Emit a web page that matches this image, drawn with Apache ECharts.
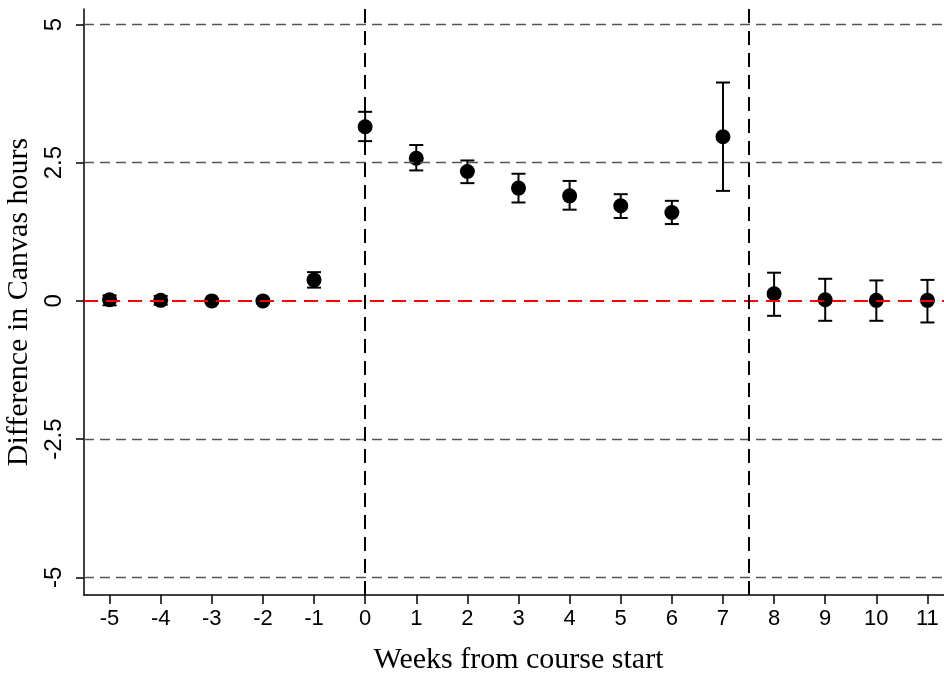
<!DOCTYPE html>
<html>
<head>
<meta charset="utf-8">
<script src="https://cdn.jsdelivr.net/npm/echarts@6/dist/echarts.min.js"></script>
<style>
html,body{margin:0;padding:0;background:#fff;}
#chart{width:944px;height:677px;}
</style>
</head>
<body>
<div id="chart"></div>
<script>
// Data
const weeks = [-5,-4,-3,-2,-1,0,1,2,3,4,5,6,7,8,9,10,11];
const estimates = [0.02,0.01,0.0,0.0,0.38,3.15,2.58,2.34,2.04,1.90,1.72,1.60,2.97,0.13,0.02,0.01,0.01];
const ciLow  = [-0.08,-0.07,-0.03,-0.03,0.24,2.89,2.36,2.13,1.78,1.65,1.50,1.39,1.99,-0.27,-0.36,-0.36,-0.39];
const ciHigh = [0.10,0.09,0.03,0.03,0.52,3.42,2.82,2.54,2.30,2.17,1.93,1.81,3.95,0.51,0.40,0.37,0.38];
const yTicks = [-5,-2.5,0,2.5,5];
const gridY = [-5,-2.5,2.5,5];
const zeroLine = 0;
const verticalLines = [0, 7.5];

const chart = echarts.init(document.getElementById('chart'), null, {renderer:'canvas'});

const pointData = weeks.map((w,i)=>[w, estimates[i]]);
const barData = weeks.map((w,i)=>[w, ciLow[i], ciHigh[i]]);

const markData = [];
gridY.forEach(v=>markData.push({yAxis:v, lineStyle:{color:'#555', width:1.3, type:[10,6]}}));
markData.push({yAxis:zeroLine, lineStyle:{color:'#ff0000', width:2, type:[14,8]}});
verticalLines.forEach(v=>markData.push({xAxis:v, lineStyle:{color:'#000', width:2, type:[14,8]}}));

const option = {
  backgroundColor:'#fff',
  animation:false,
  grid:{left:84, top:9, width:869, height:586, containLabel:false, outerBoundsMode:'none'},
  xAxis:{
    type:'value', min:-5.5, max:11.5,
    name:'Weeks from course start', nameLocation:'middle', nameGap:50,
    nameTextStyle:{fontFamily:'Liberation Serif', fontSize:30, color:'#000'},
    axisLine:{show:true, onZero:false, lineStyle:{color:'#000', width:1.5}},
    axisTick:{show:true, length:9, customValues:weeks, lineStyle:{color:'#000', width:1.5}},
    axisLabel:{show:true, customValues:weeks, margin:13, fontFamily:'Liberation Sans', fontSize:22, color:'#000',
      formatter:v=>String(v)},
    splitLine:{show:false}
  },
  yAxis:{
    type:'value', min:-5.32, max:5.28,
    name:'Difference in Canvas hours', nameLocation:'middle', nameGap:43,
    nameTextStyle:{fontFamily:'Liberation Serif', fontSize:30, color:'#000'},
    axisLine:{show:true, onZero:false, lineStyle:{color:'#000', width:1.5}},
    axisTick:{show:true, length:8, customValues:yTicks, lineStyle:{color:'#000', width:1.5}},
    axisLabel:{show:true, customValues:yTicks, rotate:90, margin:18, fontFamily:'Liberation Sans', fontSize:24, color:'#000',
      formatter:v=>String(v)},
    splitLine:{show:false}
  },
  series:[
    {
      type:'line', data:[], z:1, silent:true,
      markLine:{silent:true, symbol:['none','none'], label:{show:false}, animation:false, data:markData}
    },
    {
      type:'custom', z:3, data:barData,
      renderItem:function(params, api){
        const x = api.value(0);
        const p1 = api.coord([x, api.value(1)]);
        const p2 = api.coord([x, api.value(2)]);
        const hw = 7;
        const st = {stroke:'#000', lineWidth:2};
        return {type:'group', children:[
          {type:'line', shape:{x1:p1[0], y1:p1[1], x2:p2[0], y2:p2[1]}, style:st},
          {type:'line', shape:{x1:p1[0]-hw, y1:p1[1], x2:p1[0]+hw, y2:p1[1]}, style:st},
          {type:'line', shape:{x1:p2[0]-hw, y1:p2[1], x2:p2[0]+hw, y2:p2[1]}, style:st}
        ]};
      }
    },
    {
      type:'scatter', z:4, data:pointData, symbol:'circle', symbolSize:15,
      itemStyle:{color:'#000', opacity:1}
    }
  ]
};
chart.setOption(option);
</script>
</body>
</html>
